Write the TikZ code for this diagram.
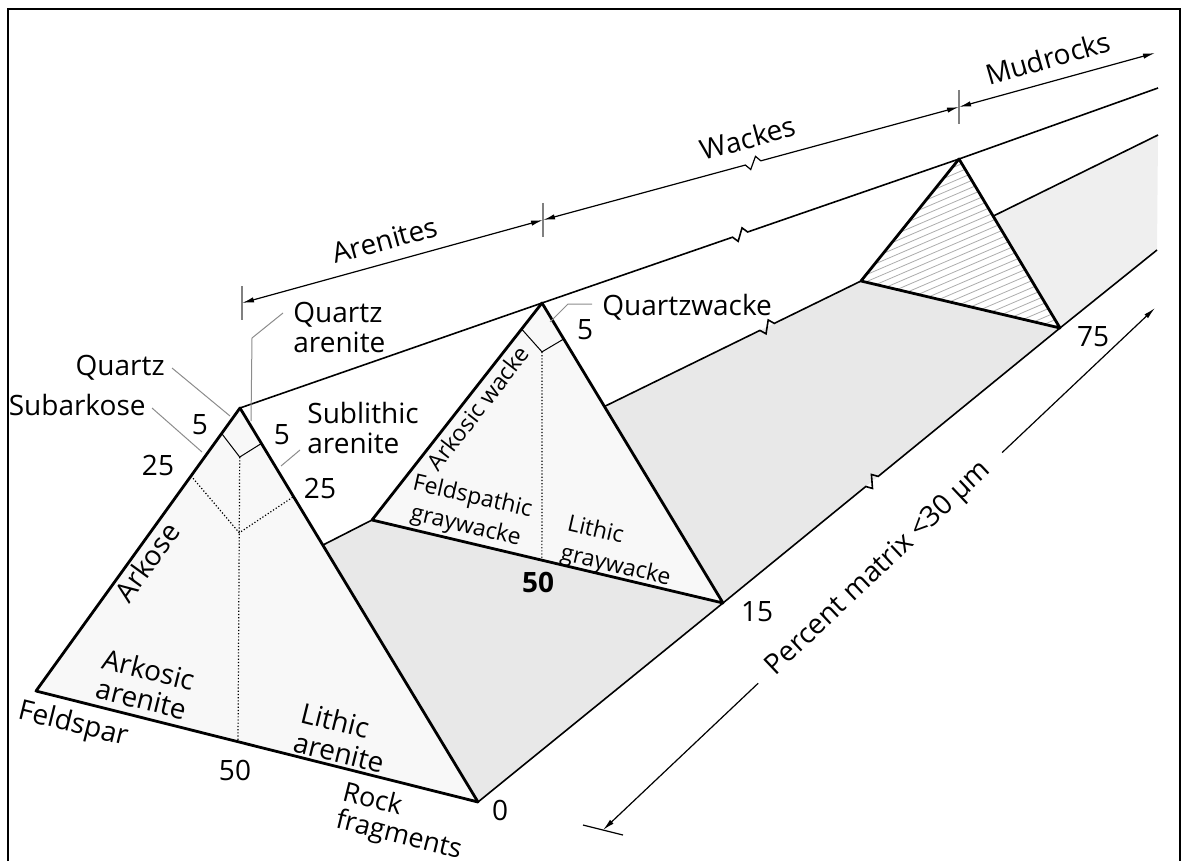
\documentclass[tikz,border=0pt]{standalone}
\usepackage{fontspec}
\setmainfont{Open Sans}
\usetikzlibrary{calc,arrows.meta}
\tikzset{every picture/.append style={font=\fontsize{14}{15}\selectfont}}
\definecolor{facegray}{HTML}{E8E8E8}
\definecolor{trigray}{HTML}{F8F8F8}
\definecolor{leadgray}{HTML}{8C8C8C}
\tikzset{
  rim/.style={line width=1.4pt,line join=round},
  rail/.style={line width=0.8pt},
  dimline/.style={line width=0.6pt},
  cut/.style={line width=0.5pt},
  cutdot/.style={line width=0.6pt,densely dotted},
  leader/.style={leadgray,line width=0.5pt},
  hatch/.style={gray!65,line width=0.4pt},
  lbl/.style={inner sep=0pt},
  sml/.style={inner sep=0pt,font=\fontsize{11.5}{15}\selectfont},
  twoway/.style={{Latex[length=6pt,width=2.6pt]}-{Latex[length=6pt,width=2.6pt]}},
  oneway/.style={-{Latex[length=6pt,width=2.6pt]}}
}
% straight line #2 -- #4 with a zigzag break at #3
\newcommand{\brokenline}[4][]{%
  \draw[#1] (#2) -- ($(#3)!4pt!(#2)$) -- ($(#3)!3.5pt!55:(#2)$)
    -- ($(#3)!3.5pt!55:(#4)$) -- ($(#3)!4pt!(#4)$) -- (#4);}

\begin{document}
\begin{tikzpicture}[x=0.5pt,y=-0.5pt]
  \useasboundingbox (0,0) rectangle (1187,861);
  \draw[line width=1.2pt] (8,861) -- (8,9) -- (1180,9) -- (1180,861);

  % sections at 0, 15 and 75 percent matrix
  \coordinate (q1) at (240,408);  \coordinate (f1) at (36,691);   \coordinate (r1) at (478,802);
  \coordinate (q2) at (542,303);  \coordinate (f2) at (372,520);  \coordinate (r2) at (723,603);
  \coordinate (q3) at (959,159);  \coordinate (f3) at (861,281);  \coordinate (r3) at (1060,328);
  \coordinate (q4) at (1158,88);  \coordinate (f4) at (1158,135); \coordinate (r4) at (1157,250);
  \coordinate (e1) at (intersection of f1--f2 and q1--r1);
  \coordinate (e2) at (intersection of f2--f3 and q2--r2);
  \coordinate (e3) at (intersection of f3--f4 and q3--r3);
  \coordinate (qb) at ($(q2)!0.475!(q3)$);
  \coordinate (fb) at ($(f2)!0.808!(f3)$);
  \coordinate (rb) at ($(r2)!0.442!(r3)$);

  \fill[facegray] (e1) -- (r1) -- (r2) -- (f2) -- cycle;
  \fill[facegray] (e2) -- (r2) -- (r3) -- (f3) -- cycle;
  \fill[facegray!70] (e3) -- (r3) -- (r4) -- (f4) -- cycle;
  \fill[trigray] (q1) -- (f1) -- (r1) -- cycle;
  \fill[trigray] (q2) -- (f2) -- (r2) -- cycle;
  \begin{scope}
    \clip (q3) -- (f3) -- (r3) -- cycle;
    \foreach \k in {0,...,42} \draw[hatch] (840,160+7*\k) -- ++(240,-103);
  \end{scope}

  \draw[rail] (q1) -- (q2);
  \brokenline[rail]{q2}{qb}{q3}
  \draw[rail] (q3) -- (q4);
  \draw[rail] (e1) -- (f2);
  \brokenline[rail]{e2}{fb}{f3}
  \draw[rail] (e3) -- (f4);
  \draw[rail] (r1) -- (r2);
  \brokenline[rail]{r2}{rb}{r3}
  \draw[rail] (r3) -- (r4);

  % inner fields
  \coordinate (b1) at ($(f1)!0.457!(r1)$);
  \coordinate (c5) at ($(q1)!0.147!(b1)$);
  \coordinate (c25) at ($(q1)!0.374!(b1)$);
  \draw[cut] ($(q1)!0.09!(f1)$) -- (c5) -- ($(q1)!0.09!(r1)$);
  \draw[cutdot] ($(q1)!0.24!(f1)$) -- (c25) -- ($(q1)!0.225!(r1)$);
  \draw[cutdot] (c5) -- (b1);
  \coordinate (b2) at ($(f2)!0.484!(r2)$);
  \coordinate (d5) at ($(q2)!0.19!(b2)$);
  \draw[cut] ($(q2)!0.12!(f2)$) -- (d5) -- ($(q2)!0.12!(r2)$);
  \draw[cutdot] (d5) -- (b2);

  \draw[rim] (q1) -- (f1) -- (r1) -- cycle;
  \draw[rim] (q2) -- (f2) -- (r2) -- cycle;
  \draw[rim] (q3) -- (f3) -- (r3) -- cycle;

  % class ranges
  \coordinate (a0) at (242,303);
  \coordinate (a1) at (543,220);
  \coordinate (a2) at (959,107);
  \coordinate (a3) at (1155,53);
  \coordinate (ab) at ($(a1)!0.505!(a2)$);
  \foreach \t in {a0,a1,a2} \draw[dimline,gray] (\t) ++(0,-17) -- ++(0,34);
  \draw[dimline,twoway] (a0) -- (a1);
  \brokenline[dimline,twoway]{a1}{ab}{a2}
  \draw[dimline,twoway] (a2) -- (a3);
  \node[lbl,rotate=15.3] (arenites) at (385,240) {Arenites};
  \node[lbl,rotate=15.3] (wackes) at (748,138) {Wackes};
  \node[lbl,rotate=16] (mudrocks) at (1048,58) {Mudrocks};

  % matrix axis
  \coordinate (m0) at (603,830);
  \coordinate (m1) at (1155,308);
  \coordinate (mA) at ($(m0)!0.281!(m1)$);
  \coordinate (mB) at ($(m0)!0.723!(m1)$);
  \draw[dimline] (583,825) -- (623,835);
  \draw[dimline,oneway] (mA) -- (m0);
  \draw[dimline,oneway] (mB) -- (m1);
  \node[lbl,rotate=43.4] (pmatrix) at ($(m0)!0.5!(m1)$) {Percent matrix <30 µm};

  % labels of the first section
  \node[lbl,anchor=west,align=left] (qzaren) at (293,327) {Quartz\\arenite};
  \node[lbl,anchor=east] (quartz) at (165,368) {Quartz};
  \node[lbl,anchor=east] (subark) at (146,405) {Subarkose};
  \node[lbl,anchor=west,align=left] (sublith) at (307,428) {Sublithic\\arenite};
  \node[lbl] (n5a) at (200,425) {5};
  \node[lbl] (n5b) at (282,435) {5};
  \node[lbl] (n25a) at (158,465) {25};
  \node[lbl] (n25b) at (320,488) {25};
  \node[lbl,rotate=54] (arkose) at (147,562) {Arkose};
  \node[lbl,rotate=-14,align=center] (arkaren) at (145,684) {Arkosic\\arenite};
  \node[lbl,rotate=-14,anchor=north west,align=left] (lithar) at (304,701) {Lithic\\arenite};
  \node[lbl,rotate=-14] (feldspar) at (73,725) {Feldspar};
  \node[lbl] (n50a) at (235,770) {50};
  \node[lbl,rotate=-14,anchor=north west,align=left,font=\fontsize{13.5}{14}\selectfont]
    (rockfr) at (346,780) {Rock\\fragments};
  \node[lbl] (n0) at (500,810) {0};
  \coordinate (qa) at (251,421);
  \coordinate (qz) at (230,416);
  \coordinate (sa) at (202,452);
  \coordinate (sl) at (281,466);
  \draw[leader] ($(qzaren.west)+(-10,-14)$) -- (252,338) -- (qa);
  \draw[leader] ($(quartz.east)+(7,0)$) -- (qz);
  \draw[leader] ($(subark.east)+(6,3)$) -- (sa);
  \draw[leader] ($(sublith.west)+(-7,22)$) -- (sl);

  % labels of the second section
  \node[lbl,anchor=west] (qzwacke) at (602,307) {Quartzwacke};
  \node[lbl] (n5c) at (585,330) {5};
  \node[sml,rotate=52] (arkwacke) at (478,408) {Arkosic wacke};
  \node[sml,rotate=-13,align=center] (feldgw) at (469,512) {Feldspathic\\graywacke};
  \node[sml,rotate=-13,anchor=north west,align=left] (lithgw) at (570,513) {Lithic\\graywacke};
  \node[lbl,font=\fontsize{14}{15}\selectfont\bfseries] (n50b) at (538,582) {50};
  \node[lbl] (n15) at (757,612) {15};
  \node[lbl] (n75) at (1093,337) {75};
  \coordinate (qw) at (550,322);
  \draw[leader] ($(qzwacke.west)+(-10,-3)$) -- ++(-24,0) -- (qw);
\end{tikzpicture}
\end{document}
